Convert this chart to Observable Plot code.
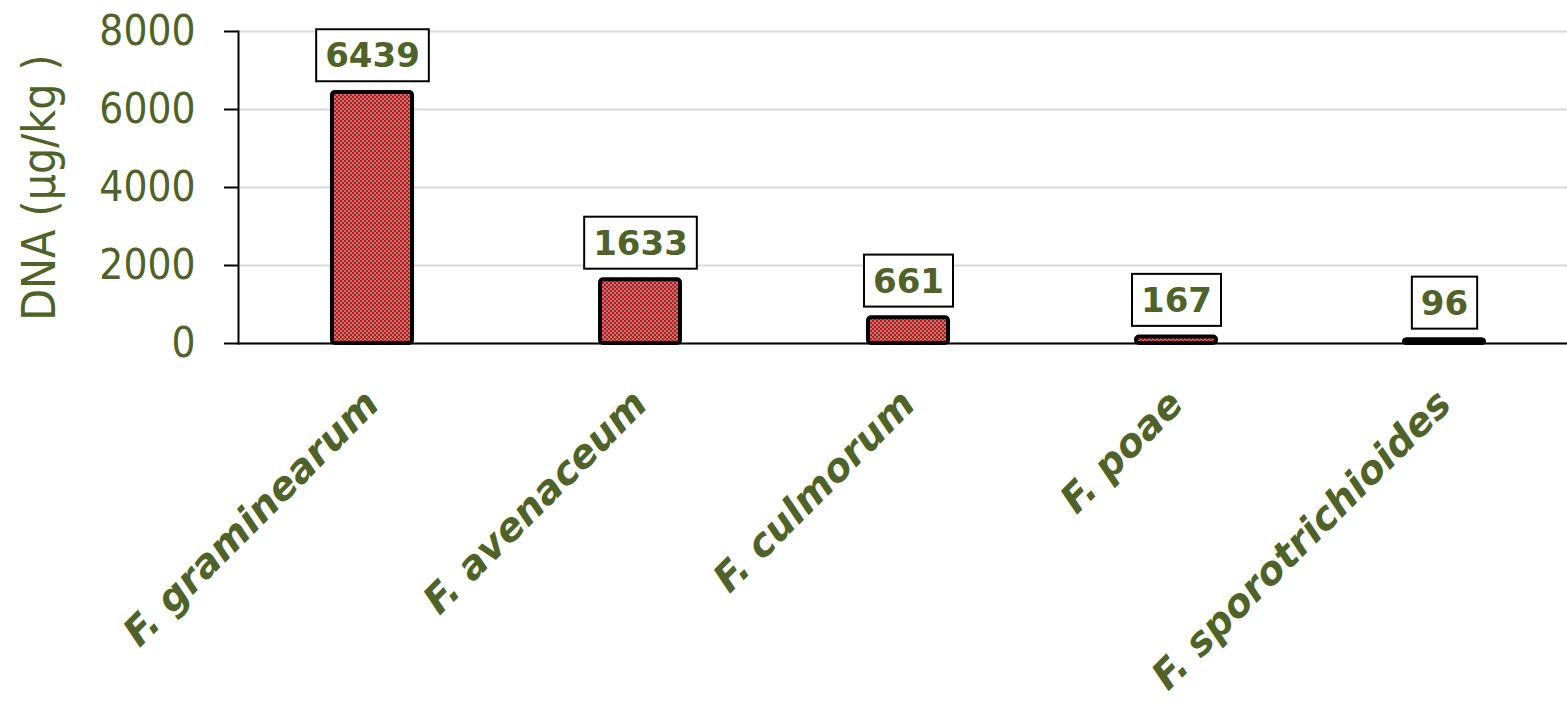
<!DOCTYPE html>
<html>
<head>
<meta charset="utf-8">
<script src="https://cdn.jsdelivr.net/npm/d3@7"></script>
<script src="https://cdn.jsdelivr.net/npm/@observablehq/plot@0.6"></script>
<style>
  html, body { margin: 0; padding: 0; background: #fff; }
  #chart svg { display: block; }
</style>
</head>
<body>
<div id="chart"></div>
<script>
// Fusarium species and their DNA content (µg/kg)
const species = ["F. graminearum", "F. avenaceum", "F. culmorum", "F. poae", "F. sporotrichioides"];
const dnaValues = [6439, 1633, 661, 167, 96];
const yTicks = [0, 2000, 4000, 6000, 8000];
const yLabel = "DNA (µg/kg )";

const data = species.map((s, i) => ({species: s, value: dnaValues[i]}));

const olive = "#4F6228";

// red/grey checkerboard fill used by the bars
const patternDefs = () => {
  const defs = d3.create("svg:defs");
  const p = defs.append("pattern")
    .attr("id", "checker")
    .attr("patternUnits", "userSpaceOnUse")
    .attr("width", 4).attr("height", 4);
  p.append("rect").attr("width", 4).attr("height", 4).attr("fill", "#8a8a8a");
  p.append("rect").attr("x", 0).attr("y", 0).attr("width", 2).attr("height", 2).attr("fill", "#f00000");
  p.append("rect").attr("x", 2).attr("y", 2).attr("width", 2).attr("height", 2).attr("fill", "#f00000");
  return defs.node();
};

const chart = Plot.plot({
  width: 1567,
  height: 708,
  marginLeft: 238,
  marginRight: 0,
  marginTop: 31,
  marginBottom: 365,
  style: {background: "#fff", overflow: "visible"},
  x: {domain: species, range: [238, 1578], paddingInner: 0.70, paddingOuter: 0.35},
  y: {domain: [0, 8000]},
  marks: [
    patternDefs,
    Plot.gridY(yTicks, {stroke: "#d9d9d9", strokeOpacity: 1, strokeWidth: 2}),
    Plot.axisY({
      ticks: yTicks, tickSize: 14, tickPadding: 29, tickFormat: d3.format("d"),
      fontSize: 42, fontFamily: "DejaVu Sans Condensed", fill: olive,
      stroke: "#000", strokeWidth: 2, label: null
    }),
    Plot.axisX({ticks: [], label: null, tickSize: 0}),
    Plot.frame({anchor: "left", stroke: "#000", strokeWidth: 2}),
    Plot.barY(data, {
      x: "species", y: "value",
      fill: "url(#checker)", stroke: "#000", strokeWidth: 4, rx: 3
    }),
    Plot.ruleY([0], {stroke: "#000", strokeWidth: 2}),
    Plot.text(data, {
      x: "species", y: "value", text: d => String(d.value),
      dy: -36, lineAnchor: "middle",
      fontSize: 34, fontWeight: 900, fontFamily: "DejaVu Sans",
      fill: olive, className: "value-label"
    }),
    Plot.text(species, {
      x: d => d, frameAnchor: "bottom", text: d => d,
      rotate: -45, textAnchor: "end", lineAnchor: "middle",
      dx: 0, dy: 54,
      fontSize: 39, fontWeight: 900, fontStyle: "italic", fontFamily: "DejaVu Sans",
      fill: olive
    }),
    Plot.text([yLabel], {
      frameAnchor: "left", text: d => d, rotate: -90,
      dx: -198, textAnchor: "middle", lineAnchor: "middle",
      fontSize: 46, fontFamily: "DejaVu Sans Condensed", fill: olive
    })
  ]
});

document.getElementById("chart").appendChild(chart);

// white boxes with a black border behind the value labels
d3.select(chart).selectAll("g.value-label text").each(function() {
  const b = this.getBBox();
  const padX = 9, padTop = 6, padBottom = 6;
  d3.select(this.parentNode).insert("rect", () => this)
    .attr("x", b.x - padX)
    .attr("y", b.y - padTop)
    .attr("width", b.width + 2 * padX)
    .attr("height", b.height + padTop + padBottom)
    .attr("transform", this.getAttribute("transform"))
    .attr("fill", "#fff")
    .attr("stroke", "#000")
    .attr("stroke-width", 2);
});
</script>
</body>
</html>
